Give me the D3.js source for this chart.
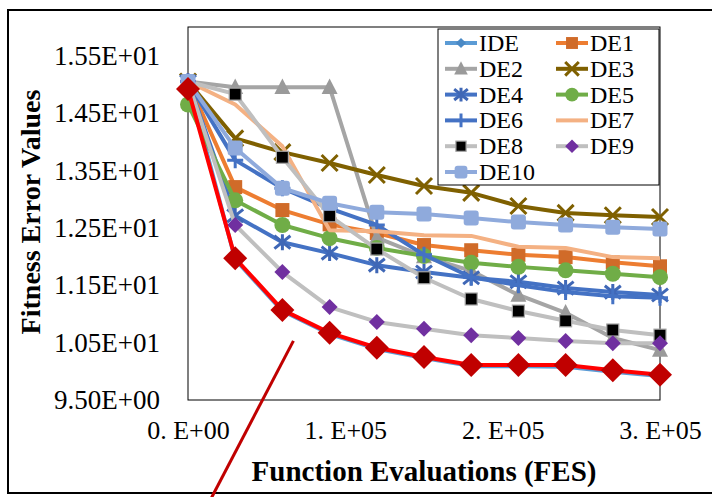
<!DOCTYPE html>
<html>
<head>
<meta charset="utf-8">
<script src="https://cdn.jsdelivr.net/npm/d3@7"></script>
<style>
  body { margin: 0; background: #fff; }
  svg { display: block; }
  svg text { font-family: "Liberation Serif", "Times New Roman", serif; }
</style>
</head>
<body>
<div class="chart__container"></div>
<script>
//initialisation
const CHART__WIDTH = 712;
const CHART__HEIGHT = 497;
const SERIF = "Liberation Serif, Times New Roman, serif";

//data
const FES = [0, 30000, 60000, 90000, 120000, 150000, 180000, 210000, 240000, 270000, 300000];

const IDE  = [15.05, 11.95, 11.05, 10.65, 10.39, 10.23, 10.09, 10.09, 10.08, 9.99, 9.92];
const DE1  = [15.05, 13.21, 12.81, 12.56, 12.41, 12.20, 12.11, 12.03, 11.99, 11.90, 11.83];
const DE2  = [15.05, 14.95, 14.95, 14.95, 12.33, 12.00, 11.75, 11.33, 11.02, 10.58, 10.37];
const DE3  = [15.05, 14.06, 13.82, 13.63, 13.42, 13.23, 13.11, 12.88, 12.76, 12.72, 12.69];
const DE4  = [15.05, 12.71, 12.25, 12.06, 11.85, 11.73, 11.63, 11.56, 11.45, 11.38, 11.33];
const DE5  = [14.65, 12.98, 12.55, 12.32, 12.15, 12.01, 11.89, 11.82, 11.76, 11.70, 11.64];
const DE6  = [15.05, 13.68, 13.19, 12.84, 12.55, 12.03, 11.64, 11.50, 11.38, 11.31, 11.28];
const DE7  = [15.05, 14.65, 13.92, 12.46, 12.44, 12.37, 12.36, 12.17, 12.15, 11.99, 11.97];
const DE8  = [15.05, 14.83, 13.73, 12.71, 12.13, 11.63, 11.26, 11.05, 10.88, 10.72, 10.63];
const DE9  = [15.05, 12.55, 11.73, 11.12, 10.86, 10.74, 10.63, 10.58, 10.53, 10.49, 10.49];
const DE10 = [15.05, 13.89, 13.19, 12.93, 12.77, 12.74, 12.67, 12.60, 12.55, 12.51, 12.48];

// red highlight drawn over IDE
const HIGHLIGHT = [14.92, 11.97, 11.07, 10.67, 10.41, 10.25, 10.11, 10.11, 10.11, 10.02, 9.94];

const SERIES_NAMES = ["IDE", "DE1", "DE2", "DE3", "DE4", "DE5", "DE6", "DE7", "DE8", "DE9", "DE10"];
const SERIES_VALUES = [IDE, DE1, DE2, DE3, DE4, DE5, DE6, DE7, DE8, DE9, DE10];

const Y_TICKS = [9.5, 10.5, 11.5, 12.5, 13.5, 14.5, 15.5];
const Y_TICK_LABELS = ["9.50E+00", "1.05E+01", "1.15E+01", "1.25E+01", "1.35E+01", "1.45E+01", "1.55E+01"];
const X_TICKS = [0, 100000, 200000, 300000];
const X_TICK_LABELS = ["0. E+00", "1. E+05", "2. E+05", "3. E+05"];

// hand drawn pointer stroke, in data units
const POINTER_FES = [67000, 15000];
const POINTER_VALUE = [10.53, 7.8];

/*-----------------------------------styles-----------------------------------*/

const STYLE = {
    IDE:  { line: "#5B9BD5", marker: "diamond", fill: "#4A89C5", size: 6 },
    DE1:  { line: "#ED7D31", marker: "square", fill: "#D06B29", size: 14 },
    DE2:  { line: "#A5A5A5", marker: "triangle", fill: "#9A9A9A", size: 16 },
    DE3:  { line: "#7F6000", marker: "x", fill: "#7F6000", size: 8 },
    DE4:  { line: "#4472C4", marker: "asterisk", fill: "#3F67B6", size: 8 },
    DE5:  { line: "#70AD47", marker: "circle", fill: "#70AD47", size: 8 },
    DE6:  { line: "#4472C4", marker: "plus", fill: "#4472C4", size: 8 },
    DE7:  { line: "#F4B183", marker: "none" },
    DE8:  { line: "#BFBFBF", marker: "square", fill: "#000000", stroke: "#A6A6A6", size: 12 },
    DE9:  { line: "#BFBFBF", marker: "diamond", fill: "#7030A0", size: 8 },
    DE10: { line: "#8FAADC", marker: "square", fill: "#8FAADC", size: 15, rx: 3 },
    HIGHLIGHT: { line: "#FF0000", marker: "diamond", fill: "#C00000", size: 12 }
};

const MARGIN = { top: 27, right: 52, bottom: 97, left: 188 };

/*-----------------------------------scales-----------------------------------*/

const xScale = d3.scaleLinear().domain([0, 300000]).range([MARGIN.left, CHART__WIDTH - MARGIN.right]);
const yScale = d3.scaleLinear().domain([9.5, 16]).range([CHART__HEIGHT - MARGIN.bottom, MARGIN.top]);

//draw one marker centred on 0,0
const drawMarker = (g, st) => {
    const s = st.size;
    if (st.marker === "diamond") {
        g.append("path").attr("d", `M0,${-s}L${s},0L0,${s}L${-s},0Z`).attr("fill", st.fill);
    } else if (st.marker === "square") {
        g.append("rect")
            .attr("x", -s / 2).attr("y", -s / 2).attr("width", s).attr("height", s)
            .attr("rx", st.rx || 0)
            .attr("fill", st.fill)
            .attr("stroke", st.stroke || "none").attr("stroke-width", 1.2);
    } else if (st.marker === "triangle") {
        g.append("path").attr("d", `M0,${-s * 0.55}L${s / 2},${s * 0.42}L${-s / 2},${s * 0.42}Z`).attr("fill", st.fill);
    } else if (st.marker === "circle") {
        g.append("circle").attr("r", s).attr("fill", st.fill);
    } else if (st.marker === "x") {
        g.append("path").attr("d", `M${-s},${-s}L${s},${s}M${-s},${s}L${s},${-s}`)
            .attr("stroke", st.fill).attr("stroke-width", 3).attr("fill", "none");
    } else if (st.marker === "asterisk") {
        g.append("path").attr("d", `M${-s},${-s * 0.8}L${s},${s * 0.8}M${-s},${s * 0.8}L${s},${-s * 0.8}M0,${-s}L0,${s}`)
            .attr("stroke", st.fill).attr("stroke-width", 3).attr("fill", "none");
    } else if (st.marker === "plus") {
        g.append("path").attr("d", `M${-s},0L${s},0M0,${-s}L0,${s}`)
            .attr("stroke", st.fill).attr("stroke-width", 3).attr("fill", "none");
    }
};

/*-----------------------------------Create element-----------------------------------*/

const svg = d3.select(".chart__container").append("svg")
    .attr("width", CHART__WIDTH)
    .attr("height", CHART__HEIGHT)
    .attr("font-family", SERIF);

svg.append("rect").attr("width", CHART__WIDTH).attr("height", CHART__HEIGHT).attr("fill", "#fff");

//outer frame
svg.append("rect")
    .attr("x", 8).attr("y", 10)
    .attr("width", CHART__WIDTH + 10).attr("height", 483)
    .attr("fill", "none").attr("stroke", "#000").attr("stroke-width", 2);

//plot frame
svg.append("rect")
    .attr("x", xScale(0)).attr("y", yScale(16))
    .attr("width", xScale(300000) - xScale(0))
    .attr("height", yScale(9.5) - yScale(16))
    .attr("fill", "none").attr("stroke", "#000").attr("stroke-width", 1);

//y-axis
const ordinate = d3.axisLeft(yScale)
    .tickValues(Y_TICKS)
    .tickFormat((d, i) => Y_TICK_LABELS[i])
    .tickSize(0)
    .tickPadding(28);
const yAxis = svg.append("g").attr("transform", `translate(${MARGIN.left},0)`).call(ordinate);
yAxis.attr("font-family", SERIF);
yAxis.select(".domain").remove();
yAxis.selectAll("text").attr("font-size", 27).attr("fill", "#000");

//x-axis
const abscissa = d3.axisBottom(xScale)
    .tickValues(X_TICKS)
    .tickFormat((d, i) => X_TICK_LABELS[i])
    .tickSize(0)
    .tickPadding(21);
const xAxis = svg.append("g").attr("transform", `translate(0,${CHART__HEIGHT - MARGIN.bottom})`).call(abscissa);
xAxis.attr("font-family", SERIF);
xAxis.select(".domain").remove();
xAxis.selectAll("text").attr("font-size", 26).attr("fill", "#000");

//axis titles
svg.append("text")
    .attr("transform", "translate(40,212) rotate(-90)")
    .attr("text-anchor", "middle")
    .attr("font-family", SERIF)
    .attr("font-size", 28).attr("font-weight", "bold")
    .text("Fitness Error Values");

svg.append("text")
    .attr("x", 424).attr("y", 481)
    .attr("text-anchor", "middle")
    .attr("font-family", SERIF)
    .attr("font-size", 29).attr("font-weight", "bold")
    .text("Function Evaluations (FES)");

//series
const lineGen = d3.line().x((d, i) => xScale(FES[i])).y(d => yScale(d));

const drawSeries = (values, st) => {
    const g = svg.append("g");
    g.append("path").datum(values)
        .attr("d", lineGen)
        .attr("fill", "none")
        .attr("stroke", st.line)
        .attr("stroke-width", 4)
        .attr("stroke-linejoin", "round");
    if (st.marker === "none") return;
    g.selectAll(".mark").data(values).enter().append("g")
        .attr("class", "mark")
        .attr("transform", (d, i) => `translate(${xScale(FES[i])},${yScale(d)})`)
        .each(function () { drawMarker(d3.select(this), st); });
};

SERIES_VALUES.forEach((values, k) => drawSeries(values, STYLE[SERIES_NAMES[k]]));
drawSeries(HIGHLIGHT, STYLE.HIGHLIGHT);

//pointer stroke
svg.append("line")
    .attr("x1", xScale(POINTER_FES[0])).attr("y1", yScale(POINTER_VALUE[0]))
    .attr("x2", xScale(POINTER_FES[1])).attr("y2", yScale(POINTER_VALUE[1]))
    .attr("stroke", "#C00000").attr("stroke-width", 3);

//legend
const legend = svg.append("g");
legend.append("rect")
    .attr("x", 438).attr("y", 29).attr("width", 221).attr("height", 156)
    .attr("fill", "#fff").attr("stroke", "#000").attr("stroke-width", 1);

SERIES_NAMES.forEach((name, k) => {
    const st = STYLE[name];
    const col = k % 2;
    const row = Math.floor(k / 2);
    const x0 = col === 0 ? 445 : 556;
    const y0 = 43 + row * 25.8;
    const item = legend.append("g").attr("transform", `translate(${x0},${y0})`);
    item.append("line").attr("x1", 0).attr("x2", 32).attr("y1", 0).attr("y2", 0)
        .attr("stroke", st.line).attr("stroke-width", 4);
    if (st.marker !== "none") {
        const m = item.append("g").attr("transform", "translate(16,0)");
        drawMarker(m, Object.assign({}, st, { size: st.size * 0.85 }));
    }
    item.append("text")
        .attr("x", 34).attr("y", 8)
        .attr("font-family", SERIF)
        .attr("font-size", 24)
        .text(name);
});
</script>
</body>
</html>
